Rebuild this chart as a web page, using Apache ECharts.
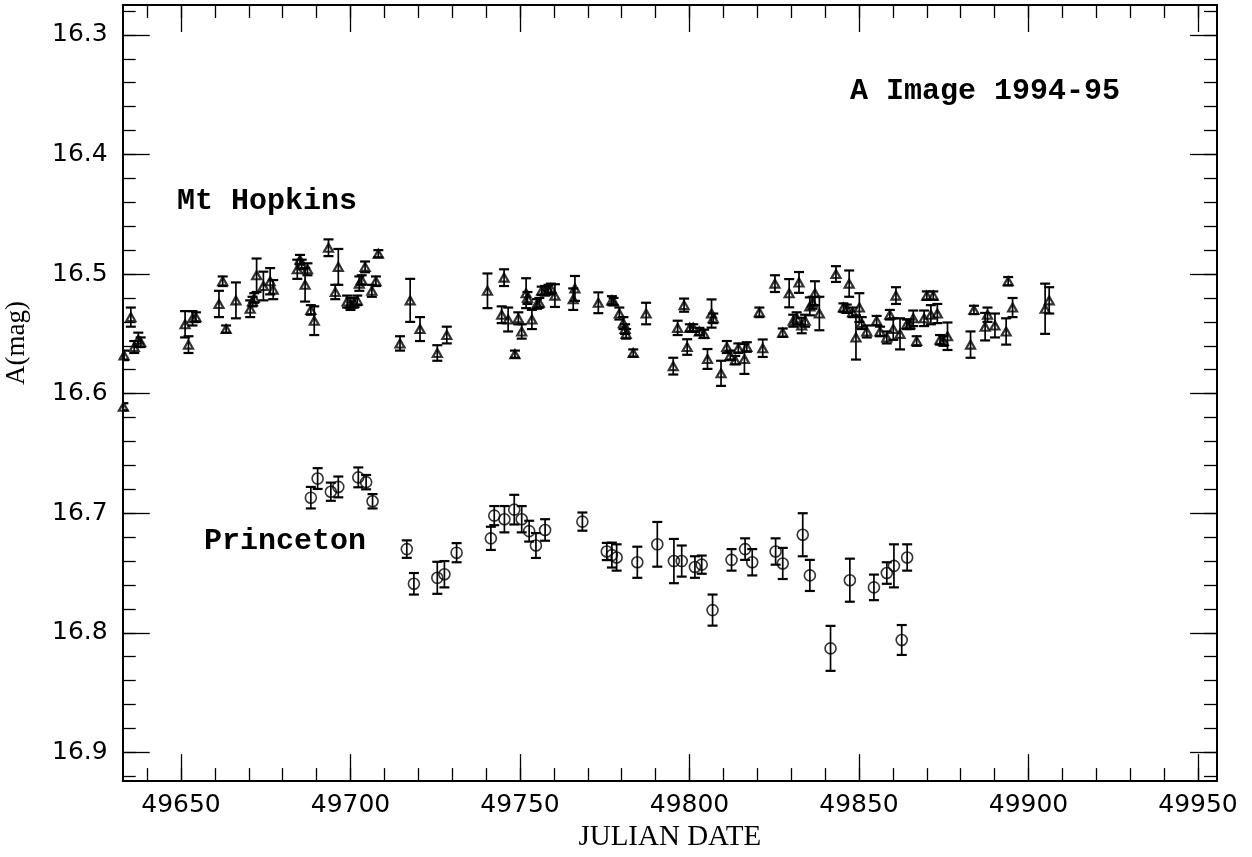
<!DOCTYPE html>
<html>
<head>
<meta charset="utf-8">
<script src="https://cdn.jsdelivr.net/npm/echarts@6/dist/echarts.min.js"></script>
<style>
html,body{margin:0;padding:0;background:#fff;}
#chart{width:1252px;height:857px;}
</style>
</head>
<body>
<div id="chart"></div>
<script>
// ---- Data ----
const hopkinsJD = [49633.0,49633.2,49635.2,49636.2,49637.4,49638.1,49651.2,49652.2,49653.4,49654.4,
49661.2,49662.3,49663.3,49666.2,49670.4,49671.1,49671.6,49672.3,49674.3,49676.3,49677.2,
49684.3,49685.1,49685.6,49686.6,49687.3,49688.3,49689.3,49693.5,49695.5,49696.4,
49699.0,49700.0,49701.0,49702.0,49702.6,49703.3,49704.3,49706.3,49707.5,49708.2,
49714.6,49717.6,49720.5,49725.6,49728.4,49740.4,49744.6,49745.3,49746.5,49748.5,
49749.5,49750.5,49751.8,49752.2,49753.5,49755.0,49755.7,49756.4,49757.4,49758.4,49759.1,49760.3,
49765.7,49766.2,49773.1,49777.1,49777.6,49779.3,49780.5,49781.0,49781.3,49783.4,49787.2,
49795.2,49796.5,49798.4,49799.3,49800.1,49801.1,49802.9,49804.3,49805.3,49806.5,49807.0,
49809.3,49811.0,49812.0,49813.5,49814.4,49816.2,49816.9,49820.6,49821.6,49825.2,49827.5,
49829.4,49830.6,49831.6,49832.3,49833.1,49834.1,49835.5,49836.3,49837.0,49838.3,
49843.2,49845.4,49846.4,49847.1,49848.1,49849.1,49850.1,49850.8,49852.3,49855.2,49856.2,
49858.2,49859.1,49860.1,49860.9,49862.1,49864.1,49865.0,49866.0,49867.0,49869.2,49870.0,
49871.2,49871.9,49873.1,49873.9,49874.9,49876.1,49882.9,49883.9,49887.2,49887.9,49890.1,
49893.4,49894.0,49895.3,49904.9,49906.1];
const hopkinsMag = [16.611,16.568,16.536,16.561,16.555,16.557,16.542,16.559,16.537,16.536,
16.525,16.506,16.546,16.522,16.529,16.523,16.520,16.501,16.510,16.506,16.513,
16.496,16.488,16.492,16.509,16.496,16.530,16.539,16.478,16.515,16.494,
16.523,16.525,16.524,16.522,16.508,16.505,16.494,16.514,16.506,16.483,
16.558,16.522,16.546,16.566,16.551,16.514,16.534,16.503,16.538,16.567,
16.537,16.548,16.516,16.520,16.538,16.525,16.524,16.514,16.514,16.513,16.512,16.518,
16.521,16.512,16.524,16.522,16.523,16.533,16.541,16.546,16.550,16.566,16.533,
16.577,16.545,16.526,16.561,16.545,16.545,16.548,16.550,16.571,16.533,16.537,
16.583,16.561,16.568,16.572,16.562,16.571,16.561,16.532,16.562,16.508,16.549,
16.516,16.539,16.537,16.507,16.543,16.539,16.527,16.524,16.516,16.533,
16.500,16.528,16.529,16.508,16.532,16.553,16.528,16.541,16.548,16.539,16.548,
16.553,16.534,16.546,16.518,16.550,16.542,16.542,16.537,16.556,16.537,16.518,
16.534,16.518,16.533,16.555,16.556,16.552,16.559,16.530,16.544,16.534,16.543,
16.548,16.506,16.528,16.529,16.522];
const hopkinsErr = [0.003,0.004,0.008,0.005,0.006,0.004,0.011,0.007,0.006,0.004,
0.011,0.004,0.003,0.015,0.007,0.004,0.004,0.014,0.012,0.011,0.008,
0.008,0.004,0.004,0.014,0.005,0.004,0.012,0.007,0.006,0.015,
0.005,0.005,0.004,0.004,0.006,0.004,0.0045,0.005,0.004,0.003,
0.006,0.018,0.010,0.0065,0.007,0.0145,0.007,0.007,0.010,0.003,
0.005,0.006,0.0125,0.005,0.008,0.004,0.004,0.0035,0.004,0.004,0.004,0.0095,
0.009,0.0104,0.0087,0.0035,0.003,0.005,0.005,0.004,0.004,0.003,0.009,
0.007,0.006,0.0055,0.0065,0.003,0.003,0.003,0.0035,0.0083,0.0118,0.004,
0.0105,0.005,0.004,0.0035,0.004,0.0125,0.004,0.004,0.0073,0.007,0.0035,
0.0118,0.005,0.005,0.0087,0.0065,0.005,0.0075,0.005,0.010,0.014,
0.0066,0.0035,0.0035,0.011,0.004,0.0185,0.012,0.005,0.005,0.004,0.004,
0.005,0.004,0.009,0.007,0.013,0.004,0.004,0.0065,0.004,0.0065,0.0035,
0.008,0.0035,0.008,0.004,0.004,0.0115,0.011,0.0035,0.0115,0.006,0.010,
0.011,0.0035,0.008,0.021,0.011];

const princetonJD = [49688.3,49690.3,49694.2,49696.4,49702.3,49704.6,49706.5,49716.6,49718.7,49725.6,
49727.7,49731.3,49741.4,49742.4,49745.4,49748.3,49750.5,49752.7,49754.7,49757.4,
49768.4,49775.6,49777.1,49778.5,49784.6,49790.5,49795.4,49797.7,49801.6,49803.6,
49806.8,49812.4,49816.4,49818.5,49825.4,49827.5,49833.4,49835.5,49841.6,49847.3,
49854.4,49858.2,49860.3,49862.6,49864.2];
const princetonMag = [16.687,16.671,16.682,16.678,16.670,16.674,16.690,16.730,16.759,16.754,
16.751,16.733,16.721,16.702,16.705,16.697,16.705,16.715,16.727,16.714,
16.707,16.732,16.735,16.737,16.741,16.726,16.740,16.740,16.745,16.743,
16.781,16.739,16.730,16.741,16.732,16.742,16.718,16.752,16.813,16.756,
16.762,16.750,16.744,16.806,16.737];
const princetonErr = [0.009,0.0087,0.0076,0.0087,0.0083,0.006,0.006,0.0073,0.009,0.0134,
0.011,0.008,0.0097,0.008,0.011,0.0124,0.011,0.0087,0.0104,0.009,
0.0076,0.0072,0.0104,0.011,0.013,0.0187,0.0185,0.013,0.009,0.0076,
0.013,0.009,0.009,0.011,0.011,0.013,0.018,0.013,0.0188,0.018,
0.0107,0.009,0.018,0.0125,0.011];

const xMajorTicks = [49650,49700,49750,49800,49850,49900,49950];
const yMajorTicks = [16.3,16.4,16.5,16.6,16.7,16.8,16.9];
const xMinorTicks = [];
for (let v = 49640; v <= 49950; v += 10) xMinorTicks.push(v);
const yMinorTicks = [];
for (let i = 14; i <= 46; i++) yMinorTicks.push(+(i * 0.02 + 16).toFixed(2));

const xMin = 49632.8, xMax = 49955.6, yMin = 16.275, yMax = 16.924;

// ---- Build series data ----
const hop = hopkinsJD.map((x, i) => [x, hopkinsMag[i], hopkinsErr[i]]);
const pri = princetonJD.map((x, i) => [x, princetonMag[i], princetonErr[i]]);

function errRender(cap) {
  return function (params, api) {
    const x = api.value(0), y = api.value(1), e = api.value(2);
    const p1 = api.coord([x, y - e]);
    const p2 = api.coord([x, y + e]);
    return {
      type: 'group',
      children: [
        { type: 'line', shape: { x1: p1[0], y1: p1[1], x2: p2[0], y2: p2[1] }, style: { stroke: '#000', lineWidth: 1.7 } },
        { type: 'line', shape: { x1: p1[0] - cap, y1: p1[1], x2: p1[0] + cap, y2: p1[1] }, style: { stroke: '#000', lineWidth: 2.2 } },
        { type: 'line', shape: { x1: p2[0] - cap, y1: p2[1], x2: p2[0] + cap, y2: p2[1] }, style: { stroke: '#000', lineWidth: 2.2 } }
      ]
    };
  };
}

const tickFont = 'DejaVu Sans';
function xAxisDef(pos, major, labels) {
  return {
    type: 'value', position: pos, min: xMin, max: xMax,
    axisLine: { show: major, onZero: false, lineStyle: { color: '#000', width: 2 } },
    axisTick: { show: true, inside: true, length: major ? 27 : 13,
      customValues: major ? xMajorTicks : xMinorTicks, lineStyle: { color: '#000', width: 1.3 } },
    axisLabel: { show: labels, customValues: xMajorTicks, color: '#000', fontFamily: tickFont,
      fontSize: 25, margin: 12, formatter: v => String(Math.round(v)) },
    splitLine: { show: false },
    name: labels ? 'JULIAN DATE' : '', nameLocation: 'middle', nameGap: 37,
    nameTextStyle: { fontFamily: 'Liberation Serif', fontSize: 29, color: '#000' }
  };
}
function yAxisDef(pos, major, labels) {
  return {
    type: 'value', position: pos, min: yMin, max: yMax, inverse: true,
    axisLine: { show: major, onZero: false, lineStyle: { color: '#000', width: 2 } },
    axisTick: { show: true, inside: true, length: major ? 27 : 13,
      customValues: major ? yMajorTicks : yMinorTicks, lineStyle: { color: '#000', width: 1.3 } },
    axisLabel: { show: labels, customValues: yMajorTicks, color: '#000', fontFamily: tickFont,
      fontSize: 25, margin: 15, formatter: v => v.toFixed(1) },
    splitLine: { show: false }
  };
}

const chart = echarts.init(document.getElementById('chart'), null, { renderer: 'canvas' });
chart.setOption({
  backgroundColor: '#fff',
  animation: false,
  grid: { left: 122.7, right: 35, top: 5, bottom: 70, containLabel: false },
  xAxis: [xAxisDef('bottom', true, true), xAxisDef('bottom', false, false),
          xAxisDef('top', true, false), xAxisDef('top', false, false)],
  yAxis: [yAxisDef('left', true, true), yAxisDef('left', false, false),
          yAxisDef('right', true, false), yAxisDef('right', false, false)],
  series: [
    { type: 'custom', name: 'Mt Hopkins err', data: hop, renderItem: errRender(5), encode: { x: 0, y: 1 }, silent: true, clip: true },
    { type: 'custom', name: 'Princeton err', data: pri, renderItem: errRender(5), encode: { x: 0, y: 1 }, silent: true, clip: true },
    { type: 'scatter', name: 'Mt Hopkins', data: hop.map(d => [d[0], d[1]]), symbol: 'triangle', symbolSize: [9, 8],
      itemStyle: { color: 'rgba(255,255,255,0)', borderColor: '#000', borderWidth: 2.2 } },
    { type: 'scatter', name: 'Princeton', data: pri.map(d => [d[0], d[1]]), symbol: 'circle', symbolSize: 11,
      itemStyle: { color: 'rgba(255,255,255,0)', borderColor: '#000', borderWidth: 1.6 } }
  ],
  graphic: [
    { type: 'text', left: 850, top: 76, style: { text: 'A Image 1994-95', font: 'bold 30px "Liberation Mono"', fill: '#000' } },
    { type: 'text', left: 177, top: 186, style: { text: 'Mt Hopkins', font: 'bold 30px "Liberation Mono"', fill: '#000' } },
    { type: 'text', left: 204, top: 526, style: { text: 'Princeton', font: 'bold 30px "Liberation Mono"', fill: '#000' } },
    { type: 'text', x: 17, y: 343, rotation: Math.PI / 2,
      style: { text: 'A(mag)', font: '27px "Liberation Serif"', fill: '#000', textAlign: 'center', textVerticalAlign: 'middle' } }
  ]
});
</script>
</body>
</html>
